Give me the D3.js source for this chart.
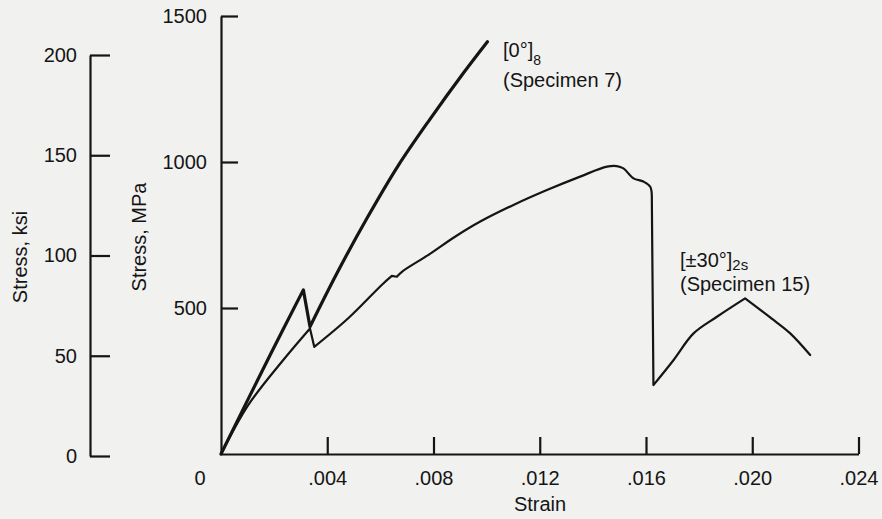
<!DOCTYPE html>
<html>
<head>
<meta charset="utf-8">
<script src="https://cdn.jsdelivr.net/npm/d3@7"></script>
<style>
  body { margin: 0; background: #f1f1f0; }
  text { font-family: "Liberation Sans", Arial, sans-serif; fill: #151515; }
</style>
</head>
<body>
<div id="wrap"></div>
<script>
// [0]8 specimen 7 : strain, stress (MPa)
var spec7Strain = [0, 0.00185, 0.0031, 0.00335, 0.00437, 0.0055, 0.00666, 0.00787, 0.00912, 0.01003];
var spec7Stress = [0, 339, 562, 436, 620, 808, 986, 1147, 1304, 1412];
var spec7Corners = [2, 3];

// [+-30]2s specimen 15
var spec15Strain = [0, 0.00103, 0.00229, 0.00335, 0.00351, 0.00479, 0.00605, 0.00643, 0.00662, 0.00681,
  0.00781, 0.00881, 0.00976, 0.01101, 0.01227, 0.01352, 0.01453, 0.0149, 0.01515, 0.01553,
  0.0159, 0.01616, 0.01622, 0.01628, 0.01704, 0.01779, 0.01867, 0.01973, 0.0208, 0.02143, 0.02218];
var spec15Stress = [0, 168, 316, 430, 367, 465, 579, 610, 607, 624,
  682, 744, 796, 853, 904, 950, 984, 986, 978, 944,
  933, 915, 870, 236, 322, 413, 470, 533, 459, 413, 339];
var spec15Corners = [3, 4, 7, 8, 22, 23, 27];

var strainTicks = [0.004, 0.008, 0.012, 0.016, 0.020, 0.024];
var mpaTicks = [500, 1000, 1500];
var ksiTicks = [0, 50, 100, 150, 200];

var width = 882, height = 519;

var svg = d3.select('#wrap').append('svg')
  .attr('width', width)
  .attr('height', height);

var x = d3.scaleLinear().domain([0, 0.024]).range([221, 858.5]),
    y = d3.scaleLinear().domain([0, 1500]).range([454, 16]),
    yKsi = d3.scaleLinear().domain([0, 200]).range([456, 55]);

function styleAxis(g) {
  g.selectAll('path, line').attr('stroke', '#151515').attr('stroke-width', 2.2);
  g.selectAll('text').attr('font-size', 20).attr('fill', '#151515')
    .style('font-family', '"Liberation Sans", Arial, sans-serif');
}

// strain axis
var gx = svg.append('g')
  .attr('transform', 'translate(0,' + y(0) + ')')
  .call(d3.axisBottom(x).tickValues(strainTicks)
    .tickSizeInner(-17).tickSizeOuter(0).tickPadding(17)
    .tickFormat(function(d){ return d3.format('.3f')(d).replace(/^0/, ''); }));
styleAxis(gx);
svg.append('text').attr('x', x(0) - 21).attr('y', 485)
  .attr('text-anchor', 'middle').attr('font-size', 20).text('0');

// MPa axis
var gy = svg.append('g')
  .attr('transform', 'translate(' + x(0) + ',0)')
  .call(d3.axisLeft(y).tickValues(mpaTicks).tickFormat(d3.format('d'))
    .tickSizeInner(-17).tickSizeOuter(0).tickPadding(14));
styleAxis(gy);

// ksi axis
var gk = svg.append('g')
  .attr('transform', 'translate(90,0)')
  .call(d3.axisLeft(yKsi).tickValues(ksiTicks).tickFormat(d3.format('d'))
    .tickSizeInner(-20).tickSizeOuter(0).tickPadding(13));
styleAxis(gk);

// axis titles
svg.append('text').attr('transform', 'translate(27,257) rotate(-90)')
  .attr('text-anchor', 'middle').attr('font-size', 20).text('Stress, ksi');
svg.append('text').attr('transform', 'translate(146,237) rotate(-90)')
  .attr('text-anchor', 'middle').attr('font-size', 20).text('Stress, MPa');
svg.append('text').attr('x', 540).attr('y', 511)
  .attr('text-anchor', 'middle').attr('font-size', 20).text('Strain');

// curves, smooth between the sharp corners
var line = d3.line()
  .curve(d3.curveCatmullRom.alpha(0.5))
  .x(function(d){ return x(d[0]); })
  .y(function(d){ return y(d[1]); });

function pieces(pts, corners) {
  var cuts = [0].concat(corners, [pts.length - 1]), out = [];
  for (var i = 0; i < cuts.length - 1; i++) out.push(pts.slice(cuts[i], cuts[i+1] + 1));
  return out;
}

function drawCurve(pts, corners, w) {
  var d = pieces(pts, corners).map(function(p){ return line(p); }).join('')
    .replace(/M/g, 'L').replace(/^L/, 'M');
  svg.append('path').attr('d', d).attr('fill', 'none')
    .attr('stroke', '#151515').attr('stroke-width', w)
    .attr('stroke-linejoin', 'round').attr('stroke-linecap', 'round');
}

drawCurve(d3.zip(spec15Strain, spec15Stress), spec15Corners, 2.2);
drawCurve(d3.zip(spec7Strain, spec7Stress), spec7Corners, 3.2);

// labels
var l7 = svg.append('text').attr('x', 503).attr('y', 57).attr('font-size', 20);
l7.append('tspan').text('[0°]');
l7.append('tspan').attr('dy', 8).attr('font-size', 14).text('8');
l7.append('tspan').attr('x', 503).attr('dy', 22).text('(Specimen 7)');

var l15 = svg.append('text').attr('x', 680).attr('y', 267).attr('font-size', 20);
l15.append('tspan').text('[±30°]');
l15.append('tspan').attr('dy', 3).attr('font-size', 15).text('2s');
l15.append('tspan').attr('x', 680).attr('dy', 21).text('(Specimen 15)');
</script>
</body>
</html>
